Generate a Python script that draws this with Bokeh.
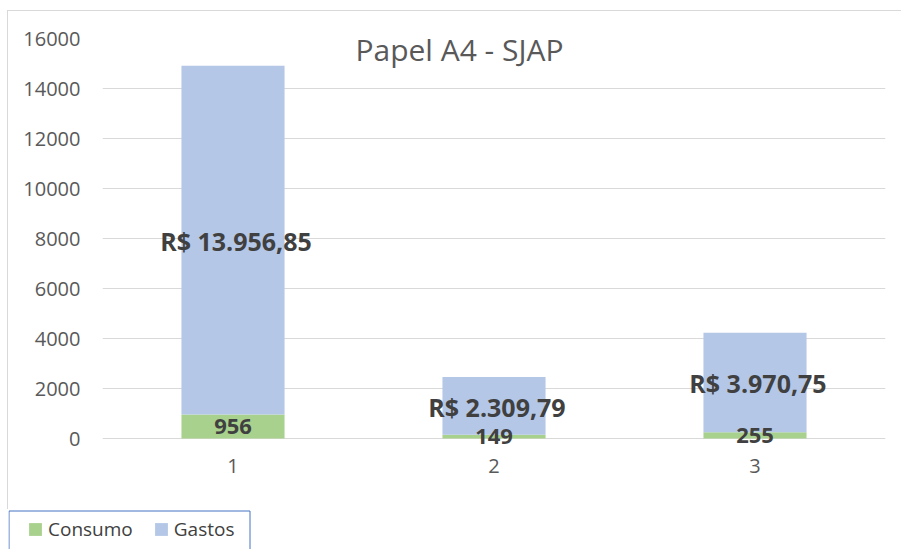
from bokeh.plotting import figure
from bokeh.layouts import column
from bokeh.models import (FactorRange, Range1d, FixedTicker, Legend, LegendItem,
                          Label, LabelSet, BoxAnnotation, ColumnDataSource)
from bokeh.core.properties import value
from bokeh.embed import file_html
from bokeh.resources import INLINE

title_text = "Papel A4 - SJAP"
categories = ["1", "2", "3"]
consumo = [956, 149, 255]
gastos = [13956.85, 2309.79, 3970.75]
series_names = ["Consumo", "Gastos"]
colors = ["#a9d18e", "#b4c7e7"]
y_ticks = [0, 2000, 4000, 6000, 8000, 10000, 12000, 14000, 16000]

FONT = "Open Sans"


def brl(v):
    s = f"{v:,.2f}".replace(",", "X").replace(".", ",").replace("X", ".")
    return "R$ " + s


src = ColumnDataSource(dict(
    cat=categories,
    Consumo=consumo,
    Gastos=gastos,
    c_mid=[c / 2 for c in consumo],
    g_mid=[c + g / 2 for c, g in zip(consumo, gastos)],
    c_lab=[str(c) for c in consumo],
    g_lab=[brl(g) for g in gastos],
))

W = 893
p = figure(width=W, height=498, title=None,
           x_range=FactorRange(factors=categories, range_padding=0),
           y_range=Range1d(-480, 16000),
           output_backend="svg", toolbar_location=None,
           min_border_left=94, min_border_right=16,
           min_border_top=27, min_border_bottom=59)

p.outline_line_color = None
p.background_fill_color = "white"
p.border_fill_color = "white"

rs = p.vbar_stack(series_names, x="cat", width=0.395, source=src,
                  fill_color=colors, line_color=None)

lab_kw = dict(source=src, text_font=value(FONT), text_font_style="bold",
              text_color="#404040", text_align="center", text_baseline="middle")
p.add_layout(LabelSet(x="cat", y="c_mid", text="c_lab", text_font_size="22px", **lab_kw))
p.add_layout(LabelSet(x="cat", y="g_mid", text="g_lab", text_font_size="25px",
                      x_offset=3, y_offset=-1, **lab_kw))

p.yaxis.ticker = FixedTicker(ticks=y_ticks)
for ax in (p.xaxis, p.yaxis):
    ax.axis_line_color = None
    ax.major_tick_line_color = None
    ax.minor_tick_line_color = None
    ax.major_tick_out = 0
    ax.major_tick_in = 0
    ax.major_label_text_font = FONT
    ax.major_label_text_font_size = "20px"
    ax.major_label_text_color = "#595959"
p.yaxis.major_label_standoff = 22
p.xaxis.major_label_standoff = 8

p.xgrid.grid_line_color = None
p.ygrid.grid_line_color = "#d9d9d9"
p.ygrid.grid_line_width = 1

title = Label(x=357, y=401, x_units="screen", y_units="screen", text=title_text,
              text_align="center", text_baseline="middle", text_font=FONT,
              text_font_size="30px", text_color="#595959")
p.add_layout(title)

# ---- legend strip (separate root so that its frame is not aligned to the plot) ----
LH = 40
lf = figure(width=W, height=LH, title=None,
            x_range=FactorRange(factors=categories), y_range=Range1d(1e7, 2e7),
            x_axis_location=None, y_axis_location=None,
            output_backend="svg", toolbar_location=None,
            min_border=0)
lf.outline_line_color = None
lf.xgrid.grid_line_color = None
lf.ygrid.grid_line_color = None
lf.background_fill_color = "white"
lf.border_fill_color = "white"
# same series, far outside the strip's visible range: only their legend swatches show
swatches = lf.vbar_stack(series_names, x="cat", width=0.395, source=src,
                         fill_color=colors, line_color=None)

legend_box = BoxAnnotation(left=0.5, right=241.5, top=1.5, bottom=200,
                           left_units="canvas", right_units="canvas",
                           top_units="canvas", bottom_units="canvas",
                           fill_color="white", fill_alpha=1,
                           line_color="#4472c4", line_alpha=1, line_width=1)
lf.add_layout(legend_box)

legend = Legend(items=[LegendItem(label=n, renderers=[r]) for n, r in zip(series_names, swatches)],
                location=(19, 7.5), orientation="horizontal",
                border_line_color=None, background_fill_alpha=0,
                padding=0, spacing=20, margin=0,
                glyph_width=16, glyph_height=16, label_standoff=5,
                label_text_font=FONT, label_text_font_size="19px",
                label_text_color="#404040")
lf.add_layout(legend, "center")

main_col = column(p, spacing=0,
                  styles={"margin-left": "7px", "margin-top": "10px",
                          "border-top": "1px solid #d9d9d9",
                          "border-left": "1px solid #d9d9d9"})
leg_col = column(lf, spacing=0, styles={"margin-left": "8px"})

open("out.html", "w").write(file_html([main_col, leg_col], INLINE))
